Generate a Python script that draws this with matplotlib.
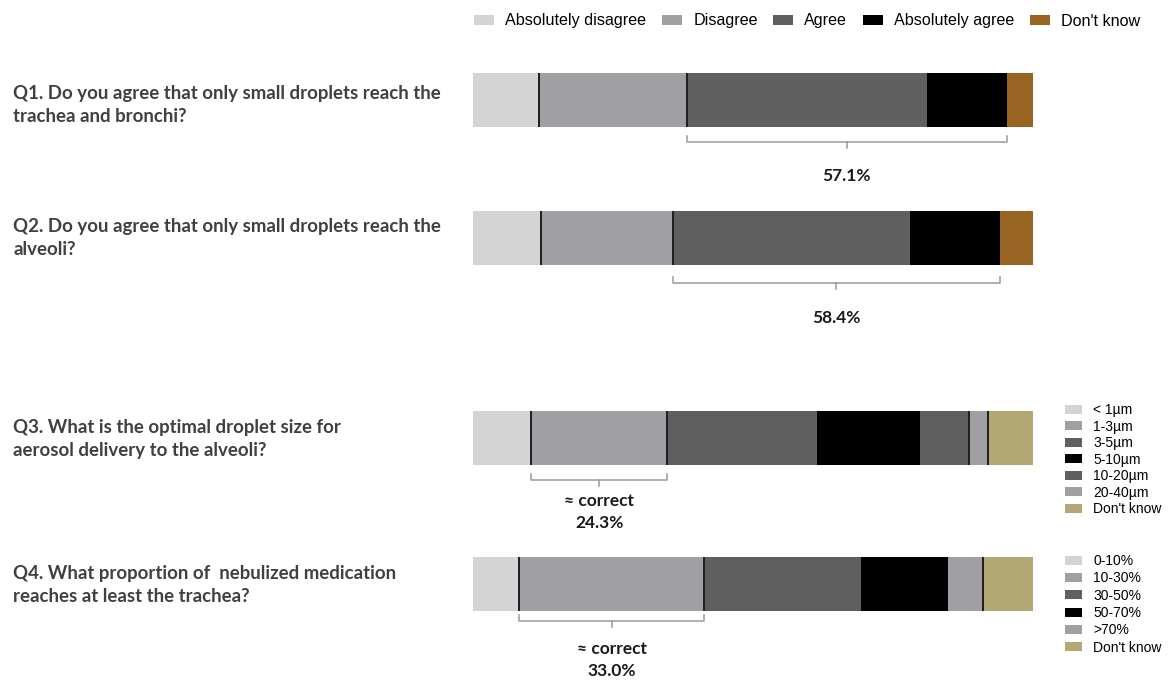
import matplotlib
matplotlib.use("Agg")
import matplotlib.pyplot as plt
from matplotlib.patches import Patch
import numpy as np

# ---------------- data ----------------
questions = [
    "Q1. Do you agree that only small droplets reach the\ntrachea and bronchi?",
    "Q2. Do you agree that only small droplets reach the\nalveoli?",
    "Q3. What is the optimal droplet size for\naerosol delivery to the alveoli?",
    "Q4. What proportion of  nebulized medication\nreaches at least the trachea?",
]
agree_labels = ["Absolutely disagree", "Disagree", "Agree", "Absolutely agree", "Don't know"]
q1_values = [11.8, 26.4, 42.9, 14.2, 4.7]
q2_values = [12.2, 23.5, 42.4, 16.0, 5.9]
size_labels = ["< 1µm", "1-3µm", "3-5µm", "5-10µm", "10-20µm", "20-40µm", "Don't know"]
q3_values = [10.4, 24.3, 26.8, 18.4, 8.6, 3.4, 8.1]
prop_labels = ["0-10%", "10-30%", "30-50%", "50-70%", ">70%", "Don't know"]
q4_values = [8.3, 33.0, 27.9, 15.7, 6.1, 9.0]
bracket_labels = ["57.1%", "58.4%", "≈ correct\n24.3%", "≈ correct\n33.0%"]

# ---------------- style ----------------
c_light, c_mid, c_dark, c_black = "#d4d4d4", "#a0a0a4", "#5f5f5f", "#000000"
c_brown, c_khaki = "#976422", "#b3a874"
agree_colors = [c_light, c_mid, c_dark, c_black, c_brown]
size_colors = [c_light, c_mid, c_dark, c_black, c_dark, c_mid, c_khaki]
prop_colors = [c_light, c_mid, c_dark, c_black, c_mid, c_khaki]

W, H = 1172, 681
fig = plt.figure(figsize=(W / 100, H / 100), dpi=100)
fig.patch.set_facecolor("white")

bar_left_px, bar_right_px = 473, 1033
ax = fig.add_axes([bar_left_px / W, 0, (bar_right_px - bar_left_px) / W, 1])
ax.set_xlim(0, 100)
ax.set_ylim(H, 0)
ax.axis("off")

values = [q1_values, q2_values, q3_values, q4_values]
colors = [agree_colors, agree_colors, size_colors, prop_colors]
bar_y = [100, 237.5, 438, 584]          # layout: bar centres (px from top)
bar_h = 54
q_text_y = [105, 238, 439, 585]
sep_idx = [[1, 2], [1, 2], [1, 2, 5, 6], [1, 2, 5]]   # boundaries with dark divider
bracket_span = [(2, 4), (2, 4), (1, 2), (1, 2)]       # segment range covered
bracket_y = [136, 277, 474, 615]
bracket_text_y = [176, 318, 512, 660]

qfont = dict(family=["Lato", "DejaVu Sans"], fontweight="bold", color="#404040")

for i, (vals, cols) in enumerate(zip(values, colors)):
    lefts = np.concatenate([[0], np.cumsum(vals)[:-1]])
    ax.barh(bar_y[i], vals, left=lefts, height=bar_h, color=cols, linewidth=0)
    edges = np.concatenate([[0], np.cumsum(vals)])
    for k in sep_idx[i]:
        ax.plot([edges[k], edges[k]], [bar_y[i] - bar_h / 2, bar_y[i] + bar_h / 2],
                color="#1e1e1e", lw=1.4, solid_capstyle="butt")
    # bracket
    a, b = bracket_span[i]
    x0, x1 = edges[a], edges[b]
    y0 = bracket_y[i]
    ax.plot([x0, x0, x1, x1], [y0, y0 + 6, y0 + 6, y0], color="#9a9a9a", lw=1.1)
    xm = (x0 + x1) / 2
    ax.plot([xm, xm], [y0 + 6, y0 + 12], color="#9a9a9a", lw=1.1)
    ax.text(xm, bracket_text_y[i], bracket_labels[i], ha="center", va="center",
            fontsize=12.5, fontweight="bold", color="#1a1a1a",
            family=["Lato", "DejaVu Sans"], linespacing=1.45)
    fig.text(13 / W, 1 - q_text_y[i] / H, questions[i], ha="left", va="center",
             fontsize=13.4, linespacing=1.4, **qfont)

# top legend
h_top = [Patch(facecolor=c, edgecolor="none") for c in agree_colors]
fig.legend(h_top, agree_labels, loc="center left",
           bbox_to_anchor=(474 / W, 1 - 21 / H), ncol=5, frameon=False,
           prop=dict(family=["Liberation Sans", "DejaVu Sans"], size=11.6),
           handlelength=1.25, handleheight=0.6, handletextpad=0.7,
           columnspacing=0.95, borderpad=0, borderaxespad=0)

# right legends
h3 = [Patch(facecolor=c, edgecolor="none") for c in size_colors]
fig.legend(h3, size_labels, loc="upper left",
           bbox_to_anchor=(1065 / W, 1 - 403 / H), ncol=1, frameon=False,
           prop=dict(family=["Liberation Sans", "DejaVu Sans"], size=10),
           handlelength=1.22, handleheight=0.6, handletextpad=0.8,
           labelspacing=0.18, borderpad=0, borderaxespad=0)
h4 = [Patch(facecolor=c, edgecolor="none") for c in prop_colors]
fig.legend(h4, prop_labels, loc="upper left",
           bbox_to_anchor=(1065 / W, 1 - 554 / H), ncol=1, frameon=False,
           prop=dict(family=["Liberation Sans", "DejaVu Sans"], size=10),
           handlelength=1.22, handleheight=0.6, handletextpad=0.8,
           labelspacing=0.24, borderpad=0, borderaxespad=0)

fig.savefig("out.png", dpi=100, facecolor="white")
